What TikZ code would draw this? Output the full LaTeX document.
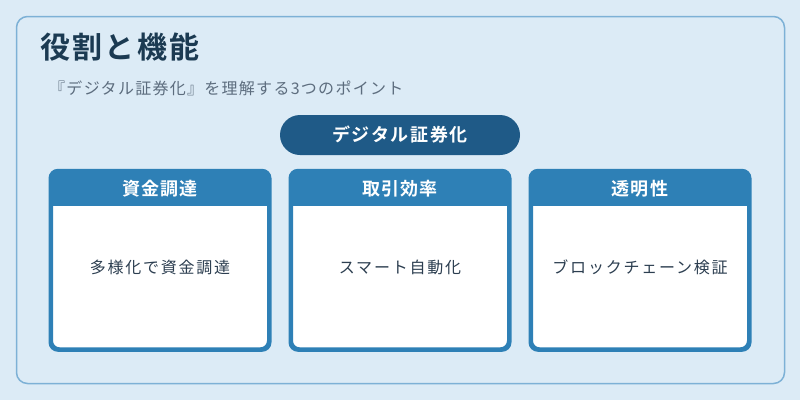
\documentclass[tikz,border=0pt]{standalone}
\usepackage{fontspec}
\setmainfont{Noto Sans CJK JP}[BoldFont={* Bold}]
\definecolor{bgc}{HTML}{DCEBF6}
\definecolor{panelc}{HTML}{7DB1D6}
\definecolor{headc}{HTML}{2E80B6}
\definecolor{pillc}{HTML}{1F5A87}
\definecolor{titlec}{HTML}{1B3A52}
\definecolor{subc}{HTML}{5D6D7E}
\definecolor{bodyc}{HTML}{2C3E50}
\tikzset{
  cardbox/.style={draw=headc, line width=3pt, rounded corners=8pt, fill=white, minimum width=217pt, minimum height=177pt, inner sep=0pt},
  headtext/.style={text=white, font=\bfseries\fontsize{18}{20}\selectfont\addfontfeature{LetterSpace=7}, inner sep=0pt},
  bodytext/.style={text=bodyc, font=\fontsize{16}{18}\selectfont\addfontfeature{LetterSpace=11}, inner sep=0pt},
}
\begin{document}
\begin{tikzpicture}[x=1pt,y=-1pt]
\fill[bgc] (0,0) rectangle (800,400);
\useasboundingbox (0,0) rectangle (800,400);
\draw[panelc, line width=1.5pt, rounded corners=11pt] (16.5,16.5) rectangle (784.5,383.5);
\node[anchor=west, inner sep=0pt, text=titlec, font=\bfseries\fontsize{30}{32}\selectfont\addfontfeature{LetterSpace=8}] (title) at (40,47.5) {役割と機能};
\node[anchor=west, inner sep=0pt, text=subc, font=\fontsize{16}{18}\selectfont\addfontfeature{LetterSpace=8}] (sub) at (49,88.5) {『デジタル証券化』を理解する3つのポイント};
\node[fill=pillc, rounded corners=20pt, minimum width=240pt, minimum height=40pt, inner sep=0pt, text=white, font=\bfseries\fontsize{18}{20}\selectfont\addfontfeature{LetterSpace=9}] (pill) at (400,135) {デジタル証券化};
\foreach \n/\cx/\h/\b in {c1/160/資金調達/多様化で資金調達, c2/400/取引効率/スマート自動化, c3/640/透明性/ブロックチェーン検証}{
  \node[cardbox] (\n) at (\cx,260.3) {};
  \begin{scope}
    \clip[rounded corners=8pt] (\n.north west) rectangle (\n.south east);
    \fill[headc] (\n.north west) rectangle ([yshift=-36pt]\n.north east);
  \end{scope}
  \draw[headc, line width=3pt, rounded corners=8pt] (\n.north west) rectangle (\n.south east);
  \node[headtext] (\n h) at (\cx,189) {\h};
  \node[bodytext] (\n b) at (\cx,267) {\b};
}
\end{tikzpicture}
\end{document}
